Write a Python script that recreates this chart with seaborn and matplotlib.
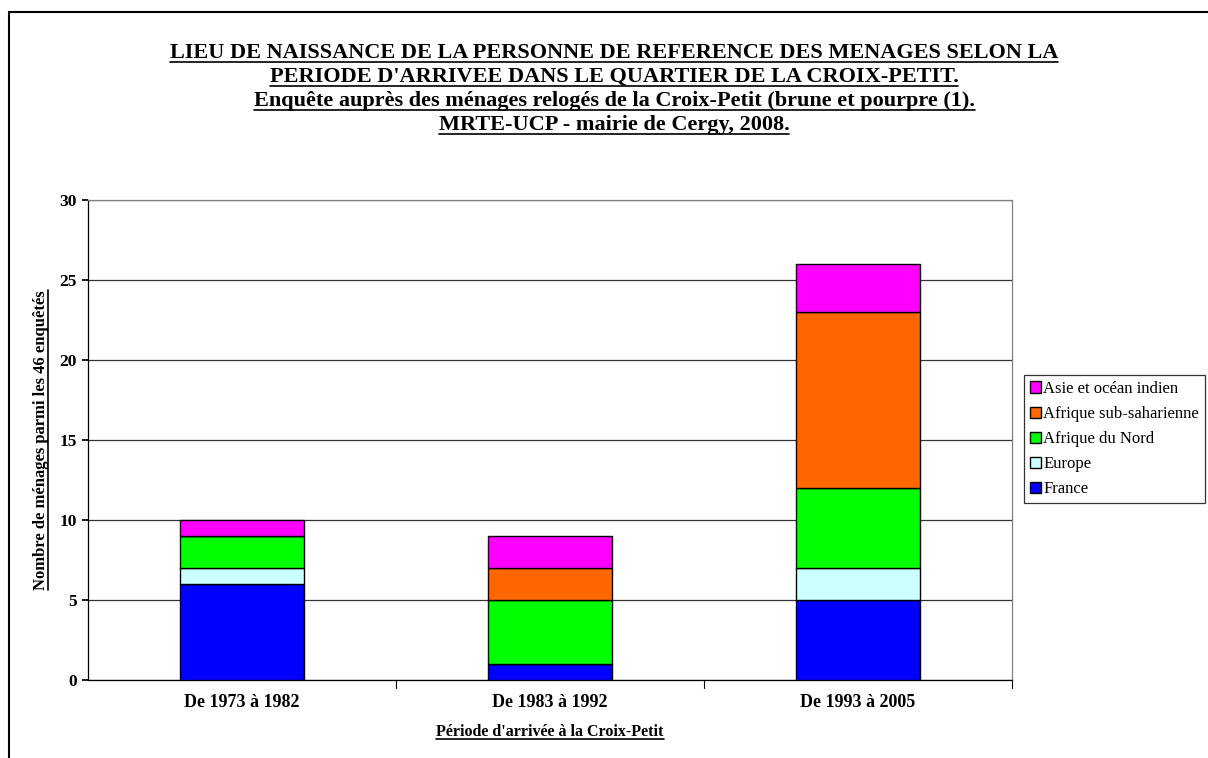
"""
Lieu de naissance de la personne de référence des ménages - Croix-Petit.
"""
import numpy as np
import matplotlib
matplotlib.use("Agg")
import matplotlib.pyplot as plt
import matplotlib.patches as mpatches
from matplotlib.lines import Line2D
import seaborn as sns

# Données
periodes = ["De 1973 à 1982", "De 1983 à 1992", "De 1993 à 2005"]
origines = ["France", "Europe", "Afrique du Nord", "Afrique sub-saharienne", "Asie et océan indien"]
france = [6, 1, 5]
europe = [1, 0, 2]
afrique_nord = [2, 4, 5]
afrique_sub = [0, 2, 11]
asie = [1, 2, 3]
couleurs = ["#0000FF", "#CCFFFF", "#00FF00", "#FF6600", "#FF00FF"]

titre = ["LIEU DE NAISSANCE DE LA PERSONNE DE REFERENCE DES MENAGES SELON LA",
         "PERIODE D'ARRIVEE DANS LE QUARTIER DE LA CROIX-PETIT.",
         "Enquête auprès des ménages relogés de la Croix-Petit (brune et pourpre (1).",
         "MRTE-UCP - mairie de Cergy, 2008."]

sns.set_theme(style="white")
plt.rcParams["font.family"] = ["Liberation Serif", "DejaVu Serif"]
plt.rcParams["text.color"] = "black"
plt.rcParams["xtick.color"] = "black"
plt.rcParams["ytick.color"] = "black"

fig = plt.figure(figsize=(12.08, 7.58), dpi=100)
ax = fig.add_axes([88 / 1208, 1 - 680 / 758, 924 / 1208, 480 / 758])

series = [france, europe, afrique_nord, afrique_sub, asie]
cumul = np.zeros(len(periodes))
for vals, col in zip(series, couleurs):
    sns.barplot(x=periodes, y=vals, bottom=cumul, color=col, width=0.4,
                edgecolor="black", linewidth=1.0, saturation=1, ax=ax, zorder=3)
    cumul += np.array(vals)

ax.set_xlim(-0.5, 2.5)
ax.set_ylim(0, 30)
ax.set_yticks(range(0, 31, 5))
ax.yaxis.grid(True, color="#333333", linewidth=0.9, zorder=0)
ax.set_xticks([0, 1, 2])
ax.set_xticklabels(periodes, fontsize=13, fontweight="bold")
ax.tick_params(axis="y", labelsize=12.5, length=4, left=True, color="black", pad=4)
ax.tick_params(axis="x", length=0, pad=10)
for lab in ax.get_yticklabels():
    lab.set_fontweight("bold")
# petites graduations entre catégories
for xb in [0.5, 1.5, 2.5]:
    ax.plot([xb, xb], [0, -0.5], color="black", lw=0.8, clip_on=False)
for s in ["left", "bottom"]:
    ax.spines[s].set_color("black")
    ax.spines[s].set_linewidth(0.9)
for s in ["top", "right"]:
    ax.spines[s].set_color("#808080")
    ax.spines[s].set_linewidth(0.9)
ax.set_xlabel("")
ax.set_ylabel("")

# Légende
handles = [mpatches.Patch(facecolor=c, edgecolor="black", label=o)
           for o, c in zip(origines, couleurs)][::-1]
leg = fig.legend(handles=handles, loc="upper left", bbox_to_anchor=(1024 / 1208, 1 - 375 / 758),
                 fontsize=12, frameon=True, fancybox=False, handlelength=0.65, handleheight=0.65,
                 handletextpad=0.15, labelspacing=0.55, borderpad=0.35, borderaxespad=0)
leg.get_frame().set_edgecolor("black")
leg.get_frame().set_linewidth(0.9)

# Textes soulignés
textes = []
for i, ligne in enumerate(titre):
    textes.append(fig.text(614 / 1208, 1 - (53 + 24 * i) / 758, ligne, ha="center", va="center",
                           fontsize=16, fontweight="bold"))
textes.append(fig.text(550 / 1208, 1 - 732 / 758, "Période d'arrivée à la Croix-Petit",
                       ha="center", va="center", fontsize=11.5, fontweight="bold"))
ylab = fig.text(41 / 1208, 1 - 440 / 758, "Nombre de ménages parmi les 46 enquêtés",
                ha="center", va="center", rotation=90, fontsize=12, fontweight="bold")

fig.canvas.draw()
rend = fig.canvas.get_renderer()
inv = fig.transFigure.inverted()
for t in textes:
    bb = t.get_window_extent(rend)
    (x0, y0), (x1, _) = inv.transform([[bb.x0, bb.y0 + 1.5], [bb.x1, bb.y0 + 1.5]])
    fig.add_artist(Line2D([x0, x1], [y0, y0], color="black", lw=1.2, transform=fig.transFigure))
bb = ylab.get_window_extent(rend)
(x0, y0), (_, y1) = inv.transform([[bb.x1 - 1.5, bb.y0], [bb.x1 - 1.5, bb.y1]])
fig.add_artist(Line2D([x0, x0], [y0, y1], color="black", lw=1.2, transform=fig.transFigure))

# Cadre extérieur
fig.add_artist(mpatches.Rectangle((9 / 1208, -0.05), 1.1, 1 - 12 / 758 + 0.05, fill=False,
                                  edgecolor="black", linewidth=1.5, transform=fig.transFigure))

fig.savefig("out.png", dpi=100)
